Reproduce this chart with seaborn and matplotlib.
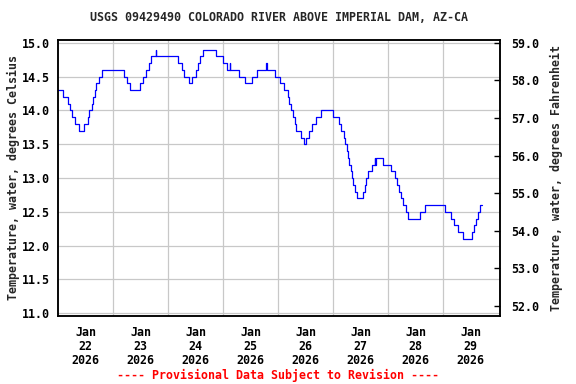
import numpy as np
import pandas as pd
import matplotlib
matplotlib.use("Agg")
import matplotlib.pyplot as plt
import matplotlib.ticker as mticker
import seaborn as sns

title = "USGS 09429490 COLORADO RIVER ABOVE IMPERIAL DAM, AZ-CA"
ylabel_c = "Temperature, water, degrees Celsius"
ylabel_f = "Temperature, water, degrees Fahrenheit"
note = "---- Provisional Data Subject to Revision ----"
month = "Jan"
year = "2026"
day_labels = ["22", "23", "24", "25", "26", "27", "28", "29"]
c_ticks = [11.0, 11.5, 12.0, 12.5, 13.0, 13.5, 14.0, 14.5, 15.0]
f_ticks = [52.0, 53.0, 54.0, 55.0, 56.0, 57.0, 58.0, 59.0]

# hours since 2026-01-22 00:00 at which each reading level starts
hours = [0.0, 2.05, 4.23, 5.24, 6.11, 7.42, 9.29, 11.48, 12.96, 13.66, 14.84,
         15.40, 16.15, 16.58, 17.76, 19.2, 28.93, 29.98, 31.42, 35.91, 37.09,
         38.4, 39.58, 40.58, 42.55, 42.9, 52.23, 54.11, 54.98, 57.16, 58.34,
         60.09, 61.22, 62.1, 63.4, 68.95, 72.13, 73.88, 74.92, 75.19, 78.98,
         81.6, 84.52, 86.97, 90.9, 91.2, 94.69, 96.74, 98.75, 100.28, 100.8,
         101.54, 102.68, 103.42, 103.85, 106.17, 107.35, 108.22, 109.4, 110.84,
         112.28, 114.63, 119.7, 122.31, 123.49, 124.67, 125.24, 125.8, 126.41,
         126.98, 127.55, 128.16, 128.73, 129.29, 130.34, 132.79, 133.66, 134.27,
         135.14, 136.89, 138.02, 138.33, 138.63, 141.51, 145.31, 147.05, 147.8,
         148.8, 149.54, 150.24, 151.72, 152.6, 157.96, 159.84, 168.57, 171.49,
         172.49, 174.41, 176.42, 180.52, 181.22, 182.27, 183.14, 183.85, 184.89]
temp_c = [14.3, 14.2, 14.1, 14.0, 13.9, 13.8, 13.7, 13.8, 13.9, 14.0, 14.1,
          14.2, 14.3, 14.4, 14.5, 14.6, 14.5, 14.4, 14.3, 14.4, 14.5,
          14.6, 14.7, 14.8, 14.9, 14.8, 14.7, 14.6, 14.5, 14.4, 14.5,
          14.6, 14.7, 14.8, 14.9, 14.8, 14.7, 14.6, 14.7, 14.6, 14.5,
          14.4, 14.5, 14.6, 14.7, 14.6, 14.5, 14.4, 14.3, 14.2, 14.1,
          14.0, 13.9, 13.8, 13.7, 13.6, 13.5, 13.6, 13.7, 13.8,
          13.9, 14.0, 13.9, 13.8, 13.7, 13.6, 13.5, 13.4, 13.3,
          13.2, 13.1, 13.0, 12.9, 12.8, 12.7, 12.8, 12.9, 13.0,
          13.1, 13.2, 13.3, 13.2, 13.3, 13.2, 13.1, 13.0, 12.9,
          12.8, 12.7, 12.6, 12.5, 12.4, 12.5, 12.6, 12.5, 12.4,
          12.3, 12.2, 12.1, 12.2, 12.3, 12.4, 12.5, 12.6, 12.6]

sns.set_theme(style="white")
plt.rcParams["font.family"] = ["DejaVu Sans Mono"]
plt.rcParams["font.weight"] = "bold"
FS = 8.4

fig = plt.figure(figsize=(5.76, 3.84), dpi=100)
ax = fig.add_axes([58 / 576, 1 - 316 / 384, 442 / 576, 276.5 / 384])

df = pd.DataFrame({"day": np.array(hours) / 24.0, "temp": temp_c})
sns.lineplot(data=df, x="day", y="temp", ax=ax, color="#0000ff", lw=0.9,
             drawstyle="steps-post", estimator=None, sort=False)

ylo, yhi = 10.96, 15.05
ax.set_xlim(0, 8.03)
ax.set_ylim(ylo, yhi)

ax.set_yticks(c_ticks)
ax.yaxis.set_major_formatter(mticker.FormatStrFormatter("%.1f"))
ax.set_xticks(np.arange(len(day_labels)) + 0.5)
ax.set_xticklabels([f"{month}\n{d}\n{year}" for d in day_labels], linespacing=1.1)
ax.set_xticks(np.arange(1, 8), minor=True)

ax.grid(False)
ax.grid(which="major", axis="y", color="#c8c8c8", lw=0.9)
ax.grid(which="minor", axis="x", color="#c8c8c8", lw=0.9)
ax.set_axisbelow(True)
ax.tick_params(axis="both", which="both", length=0, labelsize=FS, colors="black")
ax.tick_params(axis="y", pad=6)
ax.tick_params(axis="x", pad=7)
ax.set_xlabel("")
ax.set_ylabel(ylabel_c, fontsize=FS, fontweight="bold", labelpad=1.5)
ax.set_title(title, fontsize=FS, fontweight="bold", pad=13)

for s in ax.spines.values():
    s.set_color("black")
    s.set_linewidth(1.1)

ax2 = ax.twinx()
ax2.set_ylim(ylo * 1.8 + 32, yhi * 1.8 + 32)
ax2.set_yticks(f_ticks)
ax2.yaxis.set_major_formatter(mticker.FormatStrFormatter("%.1f"))
ax2.tick_params(axis="y", direction="in", length=4, width=1, pad=8,
                labelsize=FS, colors="black")
ax2.grid(False)
ax2.set_ylabel(ylabel_f, fontsize=FS, fontweight="bold", labelpad=8)
for s in ax2.spines.values():
    s.set_color("black")
    s.set_linewidth(1.1)

fig.text(278 / 576, 1 - 375 / 384, note, color="#ff0000", fontsize=FS,
         fontweight="bold", ha="center", va="center")

fig.savefig("out.png", dpi=100, facecolor="white")
